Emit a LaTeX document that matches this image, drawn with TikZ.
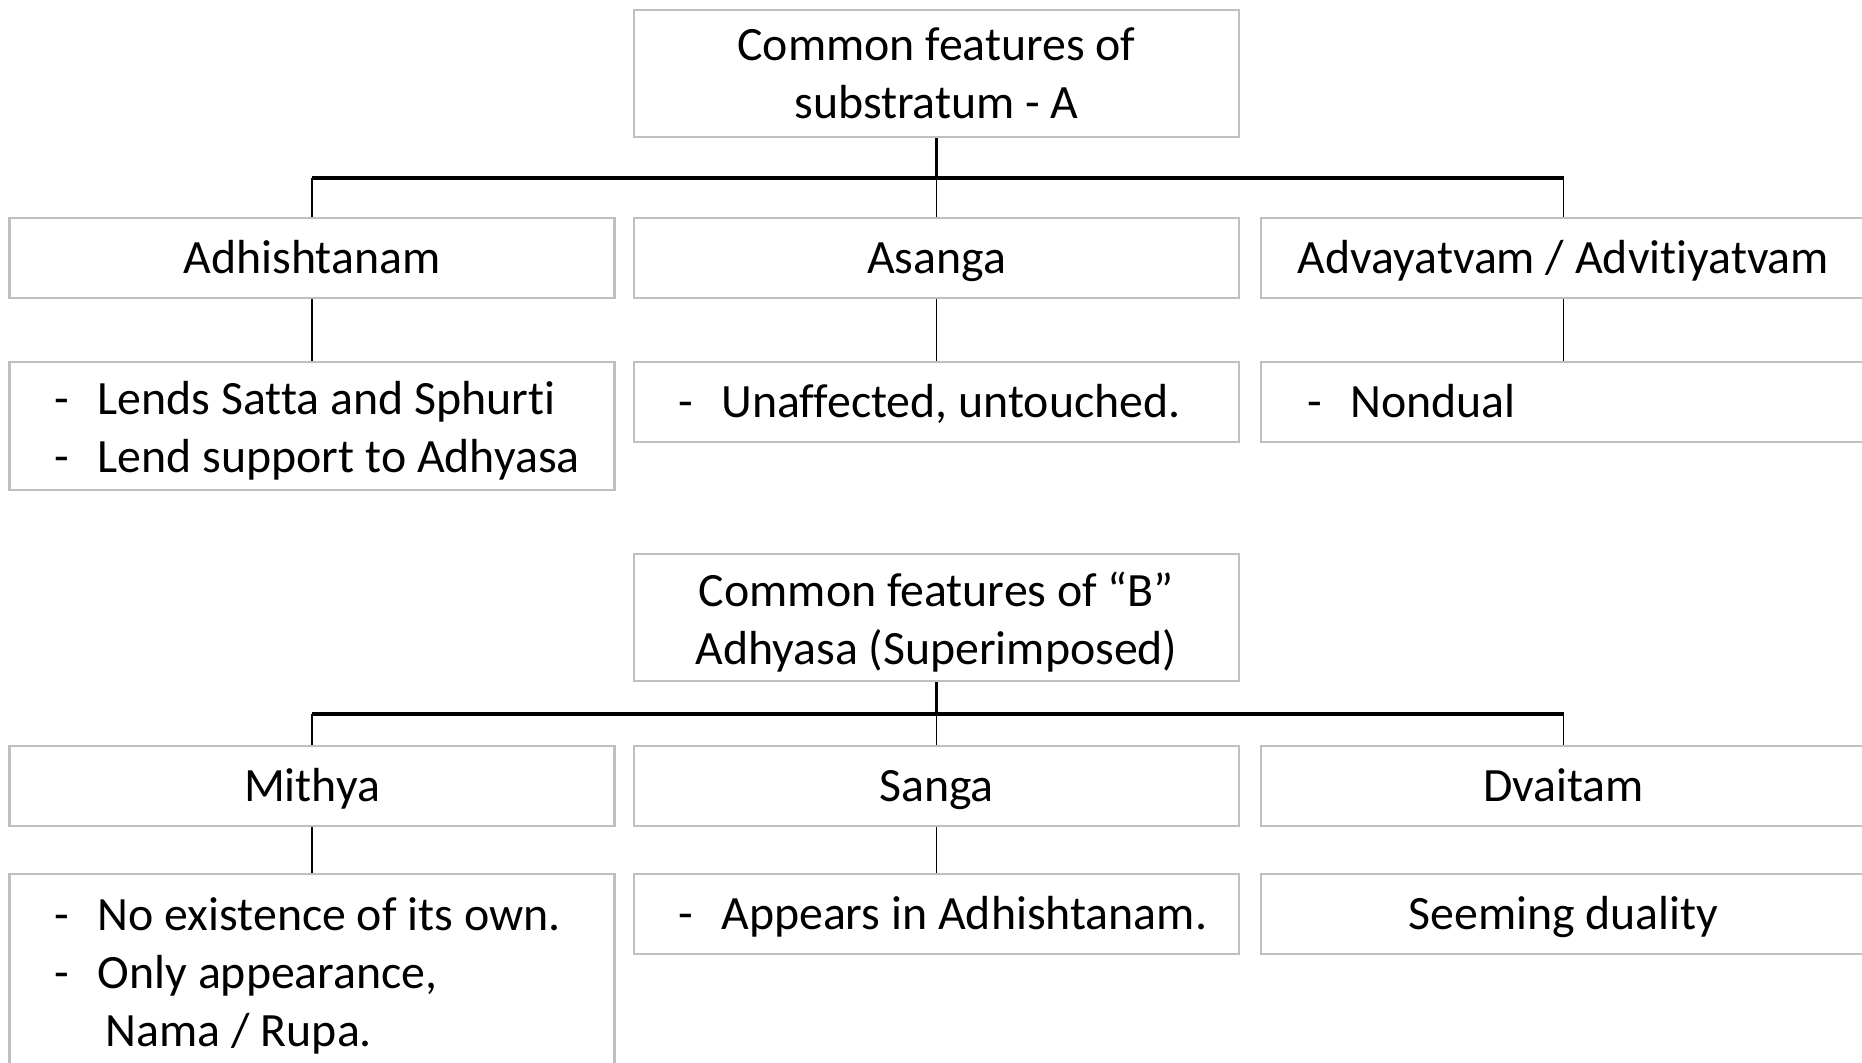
\documentclass[tikz,border=0pt]{standalone}
\usepackage{fontspec}
\setmainfont{Carlito}[Ligatures=NoCommon]
\definecolor{boxgray}{RGB}{191,191,191}
\newcommand\boxfont{\fontsize{13.6pt}{16.5pt}\selectfont}
\newcommand\dashitem[1]{\makebox[0.43cm][l]{-}#1}
\tikzset{
  box/.style={draw=boxgray, line width=0.7pt, minimum width=6.05cm,
    inner sep=0pt, align=center, font=\boxfont},
  oneline/.style={text height=8.8pt, text depth=0pt},
  listtext/.style={inner sep=0pt, align=left, font=\boxfont},
  bar/.style={line width=0.9pt, black},
  link/.style={line width=0.45pt, black}
}
\begin{document}
\begin{tikzpicture}[x=0.01cm, y=-0.01cm]
\useasboundingbox (0,0) rectangle (1862,1063);

% ---------- substratum tree ----------
\node[box, minimum height=1.27cm] (topA) at (936.5,73.5)
  {Common features of\\substratum - A};
\node[box, oneline, minimum height=0.8cm] (adhi)   at (312,258)    {Adhishtanam};
\node[box, oneline, minimum height=0.8cm] (asanga) at (936.5,258)  {Asanga};
\node[box, oneline, minimum height=0.8cm] (advaya) at (1563.5,258) {Advayatvam / Advitiyatvam};

\node[box, minimum height=1.28cm] (lendsbox) at (312,426) {};
\node[listtext, anchor=west, xshift=0.46cm, yshift=-0.05cm] (lends) at (lendsbox.west)
  {\dashitem{Lends Satta and Sphurti}\\\dashitem{Lend support to Adhyasa}};
\node[box, minimum height=0.8cm] (untbox) at (936.5,402) {};
\node[listtext, oneline, anchor=west, xshift=0.45cm] (unt) at (untbox.west)
  {\dashitem{Unaffected, untouched.}};
\node[box, minimum height=0.8cm] (nondbox) at (1563.5,402) {};
\node[listtext, oneline, anchor=west, xshift=0.47cm] (nond) at (nondbox.west)
  {\dashitem{Nondual}};

\coordinate (jA) at (936.5,178);
\draw[bar] (topA.south) -- (jA);
\draw[bar] (adhi.north |- jA) -- (advaya.north |- jA);
\draw[link] (adhi.north |- jA) -- (adhi.north);
\draw[link] (jA) -- (asanga.north);
\draw[link] (advaya.north |- jA) -- (advaya.north);
\draw[link] (adhi.south) -- (lendsbox.north);
\draw[link] (asanga.south) -- (untbox.north);
\draw[link] (advaya.south) -- (nondbox.north);

% ---------- superimposed tree ----------
\node[box, minimum height=1.27cm] (topB) at (936.5,617.5) {};
\node[inner sep=0pt, align=center, font=\boxfont, yshift=-0.05cm] (topBtext)
  at (topB.center) {Common features of “B”\\Adhyasa (Superimposed)};
\node[box, oneline, minimum height=0.8cm] (mithya) at (312,786)    {Mithya};
\node[box, oneline, minimum height=0.8cm] (sanga)  at (936.5,786)  {Sanga};
\node[box, oneline, minimum height=0.8cm] (dvaita) at (1563.5,786) {Dvaitam};

\node[box, minimum height=2.26cm] (nobox) at (312,987) {};
\node[listtext, anchor=north west, xshift=0.46cm, yshift=-0.24cm] (noexist)
  at (nobox.north west)
  {\dashitem{No existence of its own.}\\\dashitem{Only appearance,}\\
   \hspace*{0.51cm}Nama / Rupa.};
\node[box, minimum height=0.8cm] (appbox) at (936.5,914) {};
\node[listtext, oneline, anchor=west, xshift=0.45cm] (app) at (appbox.west)
  {\dashitem{Appears in Adhishtanam.}};
\node[box, oneline, minimum height=0.8cm] (seem) at (1563.5,914) {Seeming duality};

\coordinate (jB) at (936.5,714);
\draw[bar] (topB.south) -- (jB);
\draw[bar] (mithya.north |- jB) -- (dvaita.north |- jB);
\draw[link] (mithya.north |- jB) -- (mithya.north);
\draw[link] (jB) -- (sanga.north);
\draw[link] (dvaita.north |- jB) -- (dvaita.north);
\draw[link] (mithya.south) -- (nobox.north);
\draw[link] (sanga.south) -- (appbox.north);
\end{tikzpicture}
\end{document}
